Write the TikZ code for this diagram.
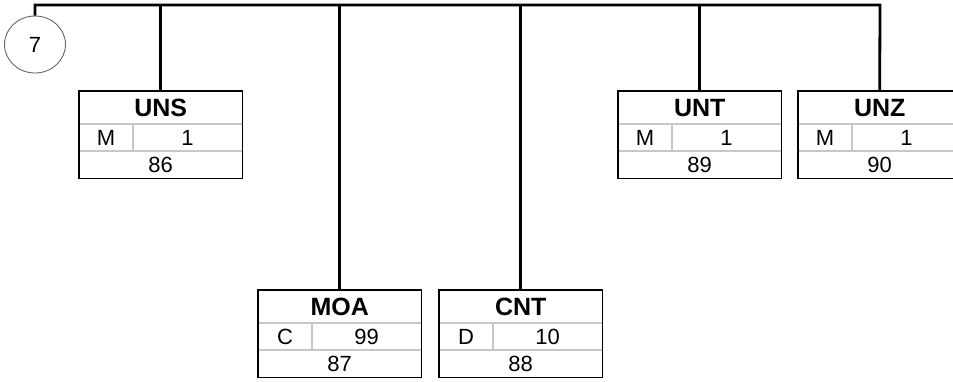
\documentclass[tikz,border=0pt]{standalone}
\usepackage{fontspec}
\setmainfont{Liberation Sans}
\usetikzlibrary{shapes.geometric,calc}
\tikzset{
  conn/.style={line width=2.8pt, black},
  segframe/.style={rectangle, minimum width=163pt, minimum height=87pt, inner sep=0pt, anchor=north west},
  inner/.style={line width=1.2pt, color=black!22},
  border/.style={line width=1.6pt, black},
  ttl/.style={font=\fontsize{25}{27}\selectfont\bfseries, inner sep=0pt},
  txt/.style={font=\fontsize{22}{24}\selectfont, inner sep=0pt},
  grp/.style={ellipse, draw=black!60, line width=0.9pt, minimum width=61pt, minimum height=57pt, inner sep=0pt, font=\fontsize{22}{24}\selectfont}
}
\newcommand{\segbox}[7]{%
  \node[segframe] (#1) at (#2,#3) {};
  \draw[inner] ($(#1.north west)+(0,33)$) -- ($(#1.north east)+(0,33)$);
  \draw[inner] ($(#1.north west)+(0,60)$) -- ($(#1.north east)+(0,60)$);
  \draw[inner] ($(#1.north west)+(54,33)$) -- ($(#1.north west)+(54,60)$);
  \draw[border] (#1.north west) rectangle (#1.south east);
  \node[ttl] (#1-t) at ($(#1.north)+(0,17)$) {#4};
  \node[txt] (#1-s) at ($(#1.north west)+(27,47)$) {#5};
  \node[txt] (#1-r) at ($(#1.north west)+(108.5,47)$) {#6};
  \node[txt] (#1-n) at ($(#1.north)+(0,74)$) {#7};
}
\begin{document}
\begin{tikzpicture}[x=1pt,y=-1pt]
\useasboundingbox (0,0) rectangle (953,381);
\node[grp] (g7) at (35,44.5) {7};
\segbox{uns}{79}{91}{UNS}{M}{1}{86}
\segbox{moa}{258}{290}{MOA}{C}{99}{87}
\segbox{cnt}{439}{290}{CNT}{D}{10}{88}
\segbox{unt}{618}{91}{UNT}{M}{1}{89}
\segbox{unz}{798}{91}{UNZ}{M}{1}{90}
\coordinate (tl) at (34,5);
\coordinate (tr) at (880,5);
\draw[conn] (g7.north) -- (g7.north |- tl) -- (tr) -- (unz.north);
\draw[conn] (uns.north) -- (uns.north |- tl);
\draw[conn] (moa.north) -- (moa.north |- tl);
\draw[conn] (cnt.north) -- (cnt.north |- tl);
\draw[conn] (unt.north) -- (unt.north |- tl);
\end{tikzpicture}
\end{document}
